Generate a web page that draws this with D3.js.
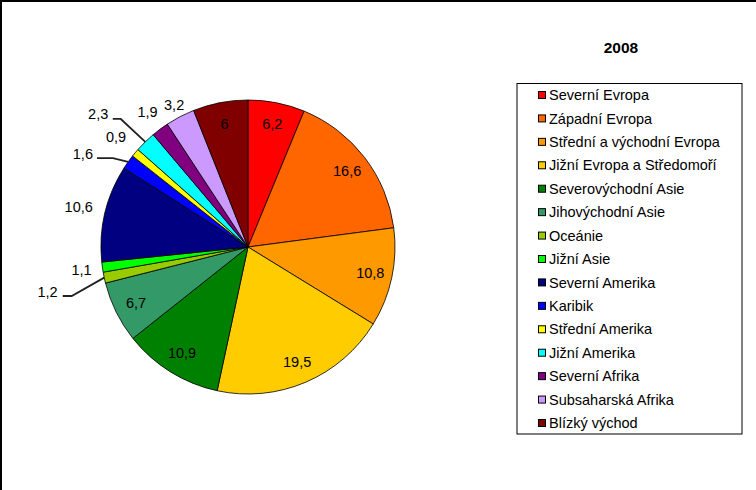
<!DOCTYPE html>
<html>
<head>
<meta charset="utf-8">
<script src="https://cdn.jsdelivr.net/npm/d3@7"></script>
<style>
  html, body { margin: 0; padding: 0; background: #fff; }
  svg { display: block; font-family: "Liberation Sans", Arial, sans-serif; }
</style>
</head>
<body>
<svg id="chart" width="756" height="490"></svg>
<script>
// ---- data ----
const categories = [
  "Severní Evropa", "Západní Evropa", "Střední a východní Evropa",
  "Jižní Evropa a Středomoří", "Severovýchodní Asie", "Jihovýchodní Asie",
  "Oceánie", "Jižní Asie", "Severní Amerika", "Karibik", "Střední Amerika",
  "Jižní Amerika", "Severní Afrika", "Subsaharská Afrika", "Blízký východ"
];
const values = [6.2, 16.6, 10.8, 19.5, 10.9, 6.7, 1.2, 1.1, 10.6, 1.6, 0.9, 2.3, 1.9, 3.2, 6];
const valueLabels = ["6,2", "16,6", "10,8", "19,5", "10,9", "6,7", "1,2", "1,1", "10,6", "1,6", "0,9", "2,3", "1,9", "3,2", "6"];
const colors = [
  "#FF0000", "#FF6600", "#FF9900", "#FFCC00", "#008000", "#339966",
  "#99CC00", "#00FF00", "#000080", "#0000FF", "#FFFF00", "#00FFFF",
  "#800080", "#CC99FF", "#800000"
];
const title = "2008";

// ---- layout ----
const W = 756, H = 490;
const cx = 248, cy = 247, R = 147;
const insideR = 125;
// outside labels (text-centre radius)
const outside = { 7: 168, 8: 174, 10: 172, 12: 168, 13: 160 };
// labels with leader lines: elbow radius, angle shift (deg), horizontal length, text gap, text lift
const leaders = {
  6:  { er: 183,   da: -3.5, hl: 9,  gap: 5, lift: 4 },
  9:  { er: 161.7, da: -2,   hl: 16, gap: 4, lift: 4.5 },
  11: { er: 180.5, da: -0.5, hl: 8,  gap: 4.5, lift: 5 }
};

const svg = d3.select("#chart");
svg.append("rect").attr("x", 1).attr("y", 1).attr("width", W + 10).attr("height", H + 10)
  .attr("fill", "#fff").attr("stroke", "#000").attr("stroke-width", 2);

const pie = d3.pie().sort(null).value(d => d)(values);
const arc = d3.arc().innerRadius(0).outerRadius(R);
const g = svg.append("g").attr("transform", `translate(${cx},${cy})`);

g.selectAll("path.slice").data(pie).join("path")
  .attr("class", "slice")
  .attr("d", arc)
  .attr("fill", (d, i) => colors[i])
  .attr("stroke", "#000")
  .attr("stroke-width", 0.8)
  .attr("stroke-linejoin", "round");

function polar(r, a) { return [r * Math.sin(a), -r * Math.cos(a)]; }

const fs = 14.5;
pie.forEach((d, i) => {
  const mid = (d.startAngle + d.endAngle) / 2;
  if (leaders[i]) {
    const L = leaders[i];
    const p0 = polar(R, mid);
    const p1 = polar(L.er, mid + L.da * Math.PI / 180);
    const p2 = [p1[0] - L.hl, p1[1]];
    g.append("polyline")
      .attr("points", [p0, p1, p2].map(p => p.join(",")).join(" "))
      .attr("fill", "none").attr("stroke", "#222").attr("stroke-width", 1.8);
    g.append("text")
      .attr("x", p2[0] - L.gap).attr("y", p2[1] - L.lift)
      .attr("text-anchor", "end").attr("dy", "0.35em")
      .attr("font-size", fs).attr("fill", "#000")
      .text(valueLabels[i]);
  } else {
    const r = outside[i] !== undefined ? outside[i] : insideR;
    const p = polar(r, mid);
    g.append("text")
      .attr("x", p[0]).attr("y", p[1])
      .attr("text-anchor", "middle").attr("dy", "0.35em")
      .attr("font-size", fs).attr("fill", "#000")
      .text(valueLabels[i]);
  }
});

// title
svg.append("text").attr("x", 621).attr("y", 48).attr("dy", "0.35em")
  .attr("text-anchor", "middle").attr("font-size", 15.5).attr("font-weight", "bold")
  .text(title);

// legend
const lg = svg.append("g");
lg.append("rect").attr("x", 517).attr("y", 83.5).attr("width", 225).attr("height", 350.5)
  .attr("fill", "#fff").attr("stroke", "#000").attr("stroke-width", 1);
const ly = d3.scalePoint().domain(categories).range([95, 423]);
const rows = lg.selectAll("g.row").data(categories).join("g")
  .attr("class", "row")
  .attr("transform", d => `translate(0,${ly(d)})`);
rows.append("rect").attr("x", 538.5).attr("y", -3.5).attr("width", 7).attr("height", 7)
  .attr("fill", (d, i) => colors[i]).attr("stroke", "#000").attr("stroke-width", 1);
rows.append("text").attr("x", 549).attr("y", 0).attr("dy", "0.35em")
  .attr("font-size", fs).attr("fill", "#000").text(d => d);
</script>
</body>
</html>
